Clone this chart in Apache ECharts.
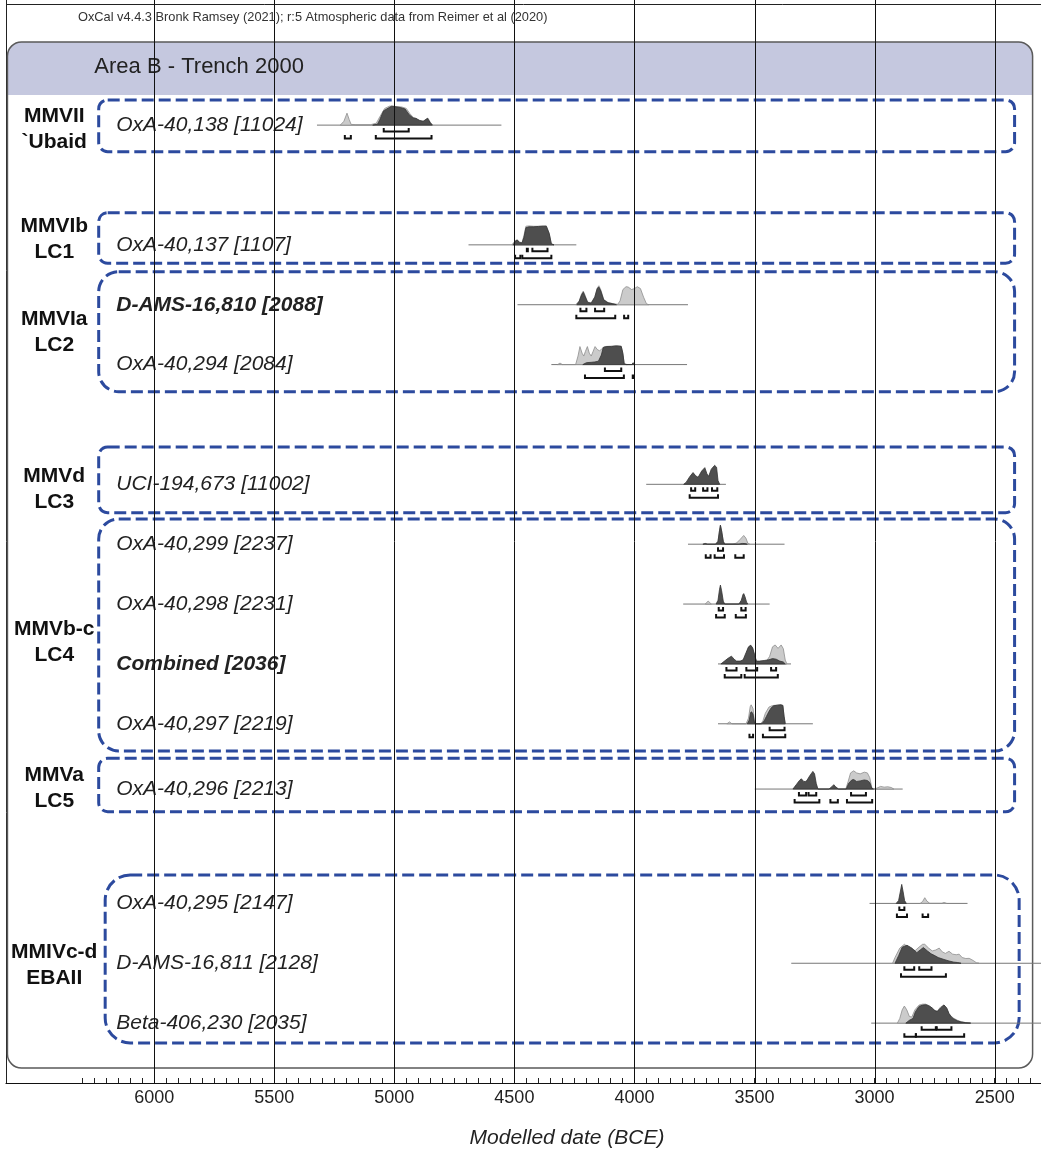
<!DOCTYPE html>
<html><head><meta charset="utf-8">
<script src="https://cdn.jsdelivr.net/npm/echarts@6/dist/echarts.min.js"></script>
<style>html,body{margin:0;padding:0;background:#fff}#c{width:1041px;height:1151px}</style>
</head><body><div id="c"></div>
<script>
// ---------- axis ----------
const tickLabels = [6000, 5500, 5000, 4500, 4000, 3500, 3000, 2500];
const minorTicks = [6300,6250,6200,6150,6100,6050,6000,5950,5900,5850,5800,5750,5700,5650,5600,5550,5500,5450,5400,5350,5300,5250,5200,5150,5100,5050,5000,4950,4900,4850,4800,4750,4700,4650,4600,4550,4500,4450,4400,4350,4300,4250,4200,4150,4100,4050,4000,3950,3900,3850,3800,3750,3700,3650,3600,3550,3500,3450,3400,3350,3300,3250,3200,3150,3100,3050,3000,2950,2900,2850,2800,2750,2700,2650,2600,2550,2500,2450,2400,2350];

// ---------- phases ----------
const phaseNames = [['MMVII', '`Ubaid'], ['MMVIb', 'LC1'], ['MMVIa', 'LC2'], ['MMVd', 'LC3'], ['MMVb-c', 'LC4'], ['MMVa', 'LC5'], ['MMIVc-d', 'EBAII']];
const phaseBoxTop = [0.58, 2.463, 3.448, 6.376, 7.579, 11.576, 13.525];
const phaseBoxBottom = [1.444, 3.308, 5.452, 7.473, 11.454, 12.468, 16.33];
const phaseBoxLeft = [6231, 6231, 6231, 6231, 6231, 6231, 6204];
const phaseBoxRight = [2417, 2417, 2417, 2417, 2417, 2417, 2398];
const phaseRadius = [9, 9, 20, 9, 20, 9, 25];
const phaseLabelRows = [1.073, 2.91, 4.455, 7.08, 9.63, 12.08, 15.04];

// ---------- samples ----------
const sampleNames = ['OxA-40,138 [11024]', 'OxA-40,137 [1107]', 'D-AMS-16,810 [2088]', 'OxA-40,294 [2084]', 'UCI-194,673 [11002]', 'OxA-40,299 [2237]', 'OxA-40,298 [2231]', 'Combined [2036]', 'OxA-40,297 [2219]', 'OxA-40,296 [2213]', 'OxA-40,295 [2147]', 'D-AMS-16,811 [2128]', 'Beta-406,230 [2035]'];
const sampleBold = [false, false, true, false, false, false, false, true, false, false, false, false, false];
const sampleRows = [1, 3, 4, 5, 7, 8, 9, 10, 11, 12.09, 14, 15, 16];
const sampleSpans = [[5322, 4554], [4691, 4242], [4487, 3777], [4346, 3781], [3951, 3619], [3777, 3375], [3797, 3437], [3652, 3348], [3652, 3257], [3499, 2883], [3021, 2613], [3347, 2300], [3014, 2300]];

// light = unmodelled likelihood, dark = modelled posterior (relative density, 100 = peak)
const lightCurves = [
  [[5225,0],[5210,20],[5197,63],[5188,30],[5180,4],[5160,2],[5100,2],[5075,10],[5060,45],[5040,88],[5020,100],[5005,100],[4990,97],[4970,96],[4950,88],[4935,60],[4920,40],[4905,30],[4890,22],[4875,20],[4860,37],[4850,15],[4840,0]],
  [[4510,0],[4497,22],[4488,27],[4478,14],[4468,12],[4460,50],[4452,98],[4440,100],[4420,98],[4400,98],[4380,100],[4367,100],[4355,60],[4346,5],[4335,0]],
  [[4245,0],[4230,20],[4220,58],[4213,72],[4205,48],[4195,14],[4180,10],[4165,42],[4155,88],[4148,100],[4140,78],[4128,28],[4110,12],[4090,6],[4070,2],[4060,20],[4048,80],[4035,95],[4026,93],[4012,80],[4000,85],[3988,95],[3975,85],[3962,40],[3950,5],[3940,0]],
  [[4320,0],[4310,8],[4300,0],[4245,0],[4235,45],[4227,95],[4218,60],[4211,45],[4204,70],[4196,95],[4188,60],[4180,45],[4172,70],[4164,95],[4155,80],[4145,72],[4135,85],[4125,95],[4100,97],[4075,100],[4055,98],[4048,50],[4042,5],[4030,0]],
  [],
  [[3662,0],[3652,15],[3646,70],[3642,100],[3637,70],[3630,15],[3624,0],[3590,0],[3575,6],[3560,25],[3545,46],[3536,32],[3528,6],[3520,0]],
  [[3705,0],[3693,16],[3680,0]],
  [[3620,0],[3600,15],[3580,10],[3560,10],[3540,30],[3525,85],[3516,100],[3508,85],[3500,45],[3490,12],[3470,10],[3450,15],[3437,40],[3425,90],[3414,100],[3402,82],[3389,100],[3380,80],[3372,20],[3365,0]],
  [[3615,0],[3604,10],[3594,0],[3535,0],[3525,30],[3518,90],[3514,100],[3506,80],[3500,10],[3493,0],[3475,0],[3465,15],[3455,55],[3440,88],[3425,96],[3410,98],[3395,100],[3382,98],[3377,40],[3372,0]],
  [[3120,0],[3110,40],[3100,85],[3087,96],[3075,85],[3060,80],[3043,89],[3030,85],[3020,60],[3012,10],[3005,0],[2990,5],[2975,14],[2960,10],[2945,12],[2930,8],[2920,0]],
  [[2810,0],[2800,10],[2791,30],[2782,12],[2770,0],[2720,0],[2711,5],[2700,0]],
  [[2925,0],[2915,30],[2895,80],[2876,100],[2860,85],[2845,70],[2830,68],[2815,85],[2800,100],[2791,100],[2775,80],[2760,65],[2745,70],[2731,80],[2718,60],[2705,52],[2690,63],[2675,48],[2660,45],[2648,48],[2635,30],[2620,25],[2606,26],[2590,15],[2575,2],[2565,0]],
  [[2905,0],[2895,25],[2885,70],[2876,90],[2866,70],[2855,35],[2845,32],[2832,70],[2815,95],[2800,100],[2787,100],[2770,90],[2755,70],[2740,62],[2725,85],[2711,95],[2700,80],[2690,50],[2680,35],[2670,25],[2655,15],[2640,8],[2620,3],[2600,0]]
];
const darkCurves = [
  [[5090,0],[5070,5],[5060,30],[5045,75],[5025,90],[5011,100],[4995,97],[4975,93],[4955,85],[4938,55],[4922,38],[4910,36],[4895,25],[4880,20],[4862,36],[4850,12],[4842,0]],
  [[4505,0],[4495,20],[4488,25],[4478,12],[4468,10],[4460,40],[4452,90],[4440,95],[4420,95],[4400,97],[4380,98],[4367,98],[4355,60],[4346,5],[4335,0]],
  [[4240,0],[4230,18],[4220,52],[4213,66],[4205,42],[4195,12],[4180,8],[4165,40],[4155,85],[4148,93],[4140,72],[4128,25],[4110,10],[4090,5],[4075,0]],
  [[4215,0],[4200,10],[4180,12],[4165,14],[4150,18],[4138,50],[4130,90],[4115,95],[4095,95],[4075,98],[4055,95],[4048,60],[4043,5],[4035,0],[4012,0],[4005,10],[3998,0]],
  [[3795,0],[3785,10],[3770,40],[3756,62],[3745,45],[3735,37],[3720,70],[3707,88],[3698,55],[3691,42],[3680,80],[3666,100],[3658,90],[3652,20],[3645,0]],
  [[3715,0],[3705,4],[3695,0],[3662,0],[3652,15],[3646,70],[3642,100],[3637,70],[3630,15],[3624,0],[3565,0],[3550,4],[3540,3],[3530,0]],
  [[3660,0],[3652,20],[3646,75],[3642,100],[3637,70],[3630,15],[3624,0],[3565,0],[3555,20],[3548,50],[3545,55],[3540,40],[3533,10],[3528,0]],
  [[3640,0],[3625,15],[3610,30],[3596,41],[3585,25],[3575,15],[3560,15],[3548,20],[3535,60],[3525,90],[3516,98],[3508,85],[3500,50],[3493,15],[3480,15],[3460,18],[3440,22],[3425,28],[3410,25],[3395,15],[3380,10],[3372,0]],
  [[3530,0],[3522,20],[3516,60],[3512,63],[3506,50],[3500,5],[3495,0],[3470,0],[3460,15],[3450,40],[3440,65],[3430,85],[3420,95],[3405,98],[3390,100],[3382,96],[3377,40],[3372,0]],
  [[3340,0],[3325,25],[3313,45],[3305,54],[3295,40],[3288,40],[3282,45],[3270,70],[3257,93],[3250,80],[3243,30],[3236,0],[3190,0],[3178,12],[3170,23],[3162,12],[3150,0],[3118,0],[3108,30],[3095,48],[3087,50],[3075,40],[3060,43],[3043,48],[3030,45],[3020,35],[3012,5],[3005,0]],
  [[2910,0],[2900,15],[2893,60],[2887,100],[2881,60],[2875,15],[2868,0]],
  [[2915,0],[2900,40],[2885,85],[2865,95],[2845,80],[2824,56],[2810,70],[2797,83],[2780,65],[2765,50],[2752,42],[2735,30],[2711,20],[2690,12],[2670,6],[2655,4],[2640,0]],
  [[2870,0],[2855,15],[2840,25],[2830,60],[2815,88],[2800,95],[2787,97],[2775,92],[2760,80],[2748,65],[2738,62],[2725,80],[2711,96],[2700,80],[2690,50],[2680,32],[2670,22],[2655,12],[2640,6],[2620,2],[2600,0]]
];
// 68.3% (upper) and 95.4% (lower) highest posterior density ranges
const ranges68 = [
  [[5044,4940]], [[4448,4444],[4425,4362]], [[4225,4200],[4164,4126]], [[4123,4055]],
  [[3764,3747],[3714,3696],[3677,3655]], [[3652,3631]], [[3649,3631],[3555,3537]],
  [[3617,3575],[3534,3489],[3431,3410]], [[3437,3375]], [[3315,3285],[3275,3243],[3098,3036]],
  [[2897,2876]], [[2876,2835],[2814,2763]], [[2804,2745],[2741,2680]]
];
const ranges95 = [
  [[5206,5181],[5077,4845]], [[4497,4475],[4467,4346]], [[4242,4080],[4043,4026]], [[4206,4044],[4007,4003]],
  [[3770,3652]], [[3703,3683],[3666,3627],[3580,3545]], [[3660,3624],[3578,3536]],
  [[3624,3555],[3541,3403]], [[3521,3506],[3465,3372]], [[3333,3230],[3184,3153],[3115,3010]],
  [[2907,2865],[2800,2777]], [[2890,2703]], [[2876,2828],[2828,2627]]
];

// ---------- layout constants ----------
const FONT = '"Liberation Sans", Arial, Helvetica, sans-serif';
const X_MIN = 2307, X_MAX = 6617, Y_MIN = -1.09, Y_MAX = 17;
const DENSITY_ROWS = 0.317;
const LABEL_YEAR = 6158, PHASE_LABEL_YEAR = 6416;
const PANEL = {left: 6611, right: 2342, top: -0.388, headerBottom: 0.497, bottom: 16.749, titleYear: 6249, titleRow: 0.02};

function renderPanel(params, api) {
  const tl = api.coord([PANEL.left, PANEL.top]);
  const br = api.coord([PANEL.right, PANEL.bottom]);
  const hb = api.coord([PANEL.right, PANEL.headerBottom]);
  const tp = api.coord([PANEL.titleYear, PANEL.titleRow]);
  const cs = params.coordSys;
  const w = br[0] - tl[0], h = br[1] - tl[1];
  return {type: 'group', children: [
    {type: 'line', shape: {x1: cs.x, y1: 4.5, x2: cs.x + cs.width, y2: 4.5}, style: {stroke: '#222', lineWidth: 1}},
    {type: 'rect', shape: {x: tl[0], y: tl[1], width: w, height: h, r: 14}, style: {fill: '#fff'}},
    {type: 'rect', shape: {x: tl[0], y: tl[1], width: w, height: hb[1] - tl[1], r: [14, 14, 0, 0]}, style: {fill: '#c5c8df'}},
    {type: 'rect', shape: {x: tl[0], y: tl[1], width: w, height: h, r: 14}, style: {fill: null, stroke: '#5a5a5a', lineWidth: 1.5}},
    {type: 'text', x: tp[0], y: tp[1], style: {text: 'Area B - Trench 2000', fontFamily: FONT, fontSize: 22, fill: '#222', align: 'left', verticalAlign: 'middle'}}
  ]};
}

function renderPhase(params, api) {
  const i = params.dataIndex;
  const tl = api.coord([phaseBoxLeft[i], phaseBoxTop[i]]);
  const br = api.coord([phaseBoxRight[i], phaseBoxBottom[i]]);
  const lp = api.coord([PHASE_LABEL_YEAR, phaseLabelRows[i]]);
  return {type: 'group', children: [
    {type: 'rect', shape: {x: tl[0], y: tl[1], width: br[0] - tl[0], height: br[1] - tl[1], r: phaseRadius[i]},
     style: {fill: null, stroke: '#2c4a9e', lineWidth: 3, lineDash: [12, 5]}},
    {type: 'text', x: lp[0], y: lp[1], style: {text: phaseNames[i].join('\n'), fontFamily: FONT, fontWeight: 'bold', fontSize: 21, lineHeight: 26, fill: '#111', align: 'center', verticalAlign: 'middle'}}
  ]};
}

function renderSample(params, api) {
  const i = params.dataIndex;
  const row = sampleRows[i];
  const unit = api.size([0, DENSITY_ROWS])[1] / 100;
  const toPts = curve => curve.map(p => { const c = api.coord([p[0], row]); return [c[0], c[1] - p[1] * unit]; });
  const p0 = api.coord([sampleSpans[i][0], row]);
  const p1 = api.coord([sampleSpans[i][1], row]);
  const children = [];
  children.push({type: 'line', shape: {x1: p0[0], y1: p0[1], x2: p1[0], y2: p1[1]}, style: {stroke: '#777', lineWidth: 1}});
  if (lightCurves[i].length) children.push({type: 'polygon', shape: {points: toPts(lightCurves[i])}, style: {fill: '#cbcbcb', stroke: '#8e8e8e', lineWidth: 0.8}});
  if (darkCurves[i].length) children.push({type: 'polygon', shape: {points: toPts(darkCurves[i])}, style: {fill: '#4e4e4e', stroke: '#333', lineWidth: 0.8}});
  const bracket = (ranges, off) => ranges.forEach(r => {
    const xa = api.coord([r[0], row])[0], xb = api.coord([r[1], row])[0], y = p0[1] + off;
    children.push({type: 'polyline', shape: {points: [[xa, y - 3.5], [xa, y], [xb, y], [xb, y - 3.5]]}, style: {stroke: '#111', lineWidth: 2, fill: null}});
  });
  bracket(ranges68[i], 6.5);
  bracket(ranges95[i], 13.5);
  const lp = api.coord([LABEL_YEAR, row]);
  children.push({type: 'text', x: lp[0], y: lp[1], style: {text: sampleNames[i], fontFamily: FONT, fontStyle: 'italic', fontWeight: sampleBold[i] ? 'bold' : 'normal', fontSize: 21, fill: '#222', align: 'left', verticalAlign: 'middle'}});
  return {type: 'group', children};
}

function renderGridLine(params, api) {
  const yr = tickLabels[params.dataIndex];
  const cs = params.coordSys;
  const x = Math.round(api.coord([yr, 0])[0]) + 0.5;
  return {type: 'line', shape: {x1: x, y1: cs.y, x2: x, y2: cs.y + cs.height}, style: {stroke: '#111', lineWidth: 1}};
}

const chart = echarts.init(document.getElementById('c'), null, {renderer: 'canvas'});
chart.setOption({
  animation: false,
  backgroundColor: '#fff',
  title: [
    {text: 'OxCal v4.4.3 Bronk Ramsey (2021); r:5 Atmospheric data from Reimer et al (2020)', left: 78, top: 11, padding: 0,
     textStyle: {fontFamily: FONT, fontSize: 12.8, fontWeight: 'normal', color: '#333'}},
    {text: 'Modelled date (BCE)', left: 567, top: 1128, padding: 0, textAlign: 'center',
     textStyle: {fontFamily: FONT, fontSize: 21, fontStyle: 'italic', fontWeight: 'normal', color: '#222'}}
  ],
  grid: {left: 6, right: -2, top: 0, bottom: 68, containLabel: false},
  xAxis: {
    type: 'value', min: X_MIN, max: X_MAX, inverse: true,
    axisLine: {show: true, onZero: false, lineStyle: {color: '#111', width: 1.2}},
    axisTick: {show: true, inside: true, length: 5, customValues: minorTicks, lineStyle: {color: '#222', width: 1}},
    axisLabel: {customValues: tickLabels, formatter: v => String(v), fontFamily: FONT, fontSize: 18, color: '#222', margin: 6},
    splitLine: {show: false}
  },
  yAxis: {
    type: 'value', min: Y_MIN, max: Y_MAX, inverse: true,
    axisLine: {show: true, lineStyle: {color: '#222', width: 1}},
    axisTick: {show: false}, axisLabel: {show: false}, splitLine: {show: false}
  },
  series: [
    {type: 'custom', name: 'panel', z: 1, renderItem: renderPanel, data: [[PANEL.left, PANEL.top]], silent: true},
    {type: 'custom', name: 'phases', z: 2, renderItem: renderPhase, data: phaseBoxLeft.map((v, i) => [v, phaseBoxTop[i]]), silent: true},
    {type: 'custom', name: 'samples', z: 3, renderItem: renderSample, data: sampleSpans.map((s, i) => [s[0], sampleRows[i]]), silent: true},
    {type: 'custom', name: 'gridlines', z: 4, renderItem: renderGridLine, data: tickLabels.map(v => [v, 0]), silent: true}
  ]
});
</script></body></html>
